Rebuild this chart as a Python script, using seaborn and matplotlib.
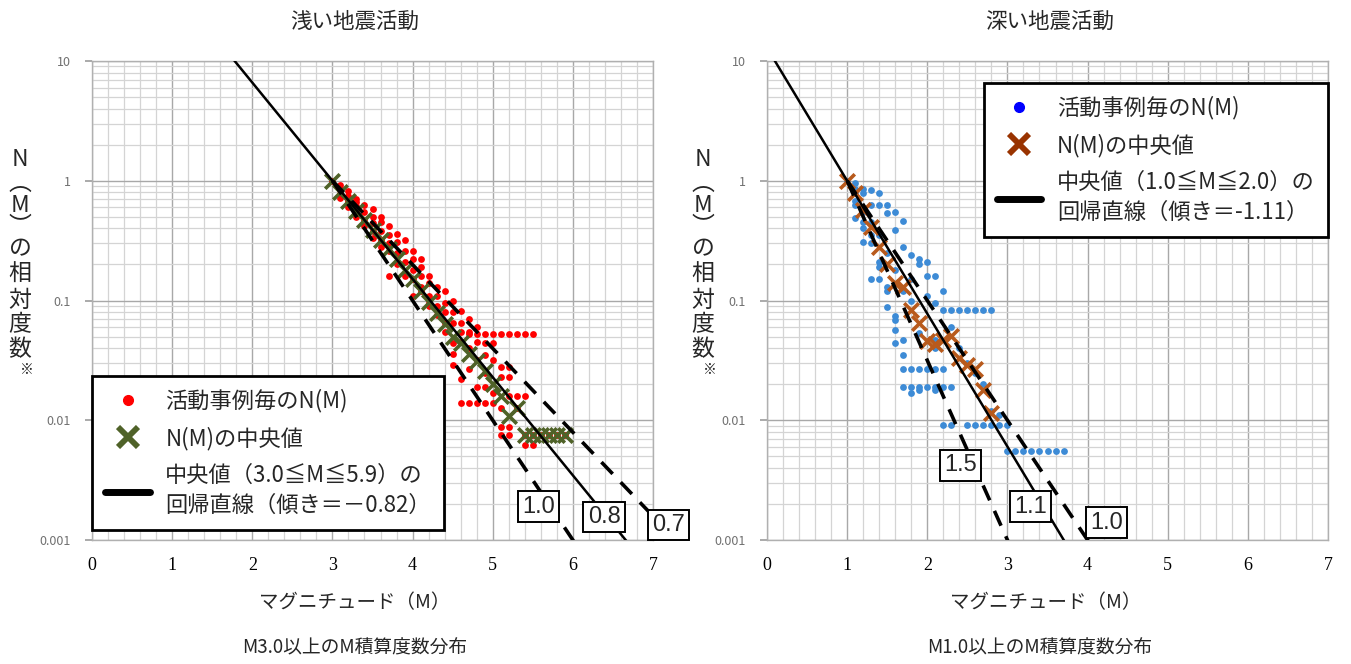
import numpy as np
import pandas as pd
import matplotlib
matplotlib.use("Agg")
import matplotlib.pyplot as plt
from matplotlib.lines import Line2D
from matplotlib.ticker import FixedLocator, FixedFormatter, MultipleLocator, LogLocator, NullFormatter
import seaborn as sns

# ---------------- data ----------------
# left panel (shallow activity): per-case N(M) points
left_M = [3.0,
          3.1, 3.1, 3.1, 3.1,
          3.2, 3.2, 3.2, 3.2,
          3.3, 3.3, 3.3, 3.3, 3.3,
          3.4, 3.4, 3.4, 3.4,
          3.5, 3.5, 3.5, 3.5, 3.5,
          3.6, 3.6, 3.6, 3.6, 3.6,
          3.7, 3.7, 3.7, 3.7, 3.7,
          3.8, 3.8, 3.8, 3.8, 3.8,
          3.9, 3.9, 3.9, 3.9, 3.9,
          4.0, 4.0, 4.0, 4.0, 4.0,
          4.1, 4.1, 4.1, 4.1, 4.1,
          4.2, 4.2, 4.2, 4.2, 4.2,
          4.3, 4.3, 4.3, 4.3,
          4.4, 4.4, 4.4, 4.4, 4.4,
          4.5, 4.5, 4.5, 4.5, 4.5, 4.5,
          4.6, 4.6, 4.6, 4.6, 4.6, 4.6,
          4.7, 4.7, 4.7, 4.7, 4.7, 4.7,
          4.8, 4.8, 4.8, 4.8, 4.8, 4.8,
          4.9, 4.9, 4.9, 4.9, 4.9, 4.9,
          5.0, 5.0, 5.0, 5.0, 5.0,
          5.1, 5.1, 5.1, 5.1, 5.1, 5.1,
          5.2, 5.2, 5.2, 5.2, 5.2, 5.2,
          5.3, 5.3, 5.3,
          5.4, 5.4, 5.4, 5.4,
          5.5, 5.5, 5.5,
          5.6, 5.7, 5.8, 5.9]
left_N = [1.0,
          0.93, 0.85, 0.78, 0.72,
          0.82, 0.75, 0.68, 0.60,
          0.70, 0.66, 0.62, 0.55, 0.50,
          0.63, 0.55, 0.47, 0.42,
          0.58, 0.50, 0.44, 0.38, 0.33,
          0.50, 0.45, 0.38, 0.32, 0.28,
          0.42, 0.35, 0.30, 0.26, 0.16,
          0.36, 0.31, 0.25, 0.21, 0.20,
          0.32, 0.26, 0.21, 0.17, 0.16,
          0.26, 0.22, 0.18, 0.15, 0.11,
          0.22, 0.19, 0.16, 0.13, 0.12,
          0.16, 0.14, 0.11, 0.095, 0.09,
          0.13, 0.11, 0.09, 0.075,
          0.12, 0.095, 0.08, 0.065, 0.055,
          0.10, 0.08, 0.065, 0.044, 0.036, 0.029,
          0.082, 0.065, 0.055, 0.045, 0.022, 0.014,
          0.07, 0.055, 0.053, 0.04, 0.027, 0.014,
          0.06, 0.053, 0.045, 0.032, 0.019, 0.014,
          0.053, 0.044, 0.035, 0.025, 0.019, 0.014,
          0.053, 0.044, 0.032, 0.017, 0.014,
          0.053, 0.028, 0.023, 0.0126, 0.0088, 0.0075,
          0.053, 0.028, 0.023, 0.016, 0.0088, 0.0075,
          0.053, 0.016, 0.0126,
          0.053, 0.016, 0.0076, 0.0062,
          0.053, 0.0076, 0.0062,
          0.0076, 0.0076, 0.0076, 0.0076]

# left panel medians
left_med_M = [3.0, 3.1, 3.2, 3.3, 3.4, 3.5, 3.6, 3.7, 3.8, 3.9,
              4.0, 4.1, 4.2, 4.3, 4.4, 4.5, 4.6, 4.7, 4.8, 4.9,
              5.0, 5.1, 5.2, 5.3, 5.4, 5.5, 5.6, 5.7, 5.8, 5.9]
left_med_N = [1.0, 0.80, 0.68, 0.56, 0.47, 0.39, 0.32, 0.27, 0.22, 0.18,
              0.15, 0.12, 0.098, 0.078, 0.064, 0.050, 0.044, 0.036, 0.031, 0.026,
              0.020, 0.016, 0.0108, 0.0126, 0.0076, 0.0076, 0.0076, 0.0076, 0.0076, 0.0076]

# right panel (deep activity): per-case N(M) points
right_M = [1.0,
           1.1, 1.1, 1.1, 1.1, 1.1, 1.1,
           1.2, 1.2, 1.2, 1.2, 1.2, 1.2,
           1.3, 1.3, 1.3, 1.3, 1.3, 1.3,
           1.4, 1.4, 1.4, 1.4, 1.4, 1.4,
           1.5, 1.5, 1.5, 1.5, 1.5, 1.5,
           1.6, 1.6, 1.6, 1.6, 1.6, 1.6, 1.6,
           1.7, 1.7, 1.7, 1.7, 1.7, 1.7, 1.7,
           1.8, 1.8, 1.8, 1.8, 1.8, 1.8,
           1.9, 1.9, 1.9, 1.9, 1.9, 1.9,
           2.0, 2.0, 2.0, 2.0, 2.0,
           2.1, 2.1, 2.1, 2.1, 2.1, 2.1, 2.1,
           2.2, 2.2, 2.2, 2.2, 2.2,
           2.3, 2.3, 2.3, 2.3,
           2.4, 2.4,
           2.5, 2.5, 2.5,
           2.6, 2.6, 2.6,
           2.7, 2.7, 2.7,
           2.8, 2.8, 2.8,
           2.9, 2.9,
           3.0, 3.0,
           3.1, 3.2, 3.3, 3.4, 3.5, 3.6, 3.7]
right_N = [1.0,
           0.95, 0.85, 0.79, 0.68, 0.63, 0.49,
           0.85, 0.79, 0.55, 0.45, 0.40, 0.31,
           0.84, 0.63, 0.45, 0.35, 0.30, 0.15,
           0.79, 0.63, 0.35, 0.21, 0.19, 0.15,
           0.63, 0.54, 0.25, 0.13, 0.12, 0.089,
           0.55, 0.39, 0.18, 0.074, 0.069, 0.057, 0.044,
           0.46, 0.28, 0.12, 0.047, 0.035, 0.027, 0.019,
           0.24, 0.15, 0.10, 0.027, 0.019, 0.017,
           0.22, 0.20, 0.054, 0.027, 0.019, 0.018,
           0.21, 0.16, 0.11, 0.027, 0.019,
           0.16, 0.096, 0.047, 0.040, 0.027, 0.019, 0.018,
           0.12, 0.083, 0.027, 0.019, 0.0091,
           0.083, 0.060, 0.019, 0.0091,
           0.083, 0.040,
           0.083, 0.030, 0.0091,
           0.083, 0.025, 0.0091,
           0.083, 0.020, 0.0091,
           0.083, 0.012, 0.0091,
           0.011, 0.0091,
           0.0091, 0.0055,
           0.0055, 0.0055, 0.0055, 0.0055, 0.0055, 0.0055, 0.0055]

right_med_M = [1.0, 1.1, 1.2, 1.3, 1.4, 1.5, 1.6, 1.7, 1.8, 1.9,
               2.0, 2.1, 2.2, 2.3, 2.4, 2.5, 2.6, 2.7, 2.8]
right_med_N = [1.0, 0.79, 0.57, 0.41, 0.28, 0.20, 0.14, 0.13, 0.083, 0.065,
               0.046, 0.043, 0.047, 0.051, 0.033, 0.029, 0.027, 0.018, 0.0115]

# regression / reference slopes (b-values), anchored at N=1
left_anchor = 3.0
left_fit_slope = 0.82
left_ref_slopes = [1.0, 0.7]
left_labels = ["1.0", "0.8", "0.7"]
left_label_M = [5.575, 6.39, 7.19]
left_label_N = [0.0019, 0.00155, 0.00134]

right_anchor = 1.0
right_fit_slope = 1.11
right_ref_slopes = [1.5, 1.0]
right_labels = ["1.5", "1.1", "1.0"]
right_label_M = [2.41, 3.29, 4.24]
right_label_N = [0.0042, 0.0019, 0.0014]

yticks = [0.001, 0.01, 0.1, 1, 10]
ytick_labels = ["0.001", "0.01", "0.1", "1", "10"]
xticks = [0, 1, 2, 3, 4, 5, 6, 7]

titles = ["浅い地震活動", "深い地震活動"]
captions = ["M3.0以上のM積算度数分布", "M1.0以上のM積算度数分布"]
xlabel = "マグニチュード（M）"
ylabel_chars = ["N", "︵", "M", "︶", "の", "相", "対", "度", "数"]
ylabel_note = "※"

left_leg = ["活動事例毎のN(M)", "N(M)の中央値",
            "中央値（3.0≦M≦5.9）の\n回帰直線（傾き＝－0.82）"]
right_leg = ["活動事例毎のN(M)", "N(M)の中央値",
             "中央値（1.0≦M≦2.0）の\n回帰直線（傾き＝-1.11）"]

# ---------------- style ----------------
sns.set_theme(style="white")
plt.rcParams['font.family'] = ['Noto Sans CJK JP', 'DejaVu Sans']

W, H = 1351, 664
fig = plt.figure(figsize=(W / 100, H / 100), dpi=100)

def px_axes(x0, x1, y0, y1):
    return fig.add_axes([x0 / W, 1 - y1 / H, (x1 - x0) / W, (y1 - y0) / H])

axL = px_axes(92, 653, 61, 540)
axR = px_axes(767, 1328, 61, 540)


def line_df(anchor, slope, m0, m1):
    m = np.linspace(m0, m1, 200)
    return pd.DataFrame({"M": m, "N": 10 ** (-slope * (m - anchor))})


def setup(ax):
    ax.set_yscale("log")
    ax.set_xlim(0, 7)
    ax.set_ylim(0.001, 10)
    ax.xaxis.set_major_locator(FixedLocator(xticks))
    ax.xaxis.set_minor_locator(MultipleLocator(0.2))
    ax.yaxis.set_major_locator(FixedLocator(yticks))
    ax.yaxis.set_major_formatter(FixedFormatter(ytick_labels))
    ax.yaxis.set_minor_locator(LogLocator(base=10, subs=np.arange(2, 10)))
    ax.yaxis.set_minor_formatter(NullFormatter())
    ax.grid(which="major", color="#a8a8a8", lw=1.0)
    ax.grid(which="minor", color="#d4d4d4", lw=0.9)
    ax.set_axisbelow(True)
    for s in ax.spines.values():
        s.set_color("#b0b0b0")
        s.set_linewidth(1.0)
    ax.tick_params(axis="x", which="major", length=0, pad=12, labelsize=13,
                   labelcolor="black")
    for lab in ax.get_xticklabels():
        lab.set_family(["Liberation Serif", "DejaVu Serif"])
    ax.tick_params(axis="y", which="major", length=5, color="#a0a0a0",
                   labelsize=9, labelcolor="#707070", pad=10, left=True)
    ax.tick_params(axis="y", which="minor", length=0)
    ax.tick_params(axis="x", which="minor", length=0)
    ax.set_xlabel("")
    ax.set_ylabel("")


def draw_panel(ax, M, N, mM, mN, dot_color, x_color, anchor, fit_slope,
               ref_slopes, fit_start, labels, lab_M, lab_N):
    setup(ax)
    sns.scatterplot(x=M, y=N, ax=ax, color=dot_color, s=24, linewidth=0,
                    legend=False, zorder=3)
    sns.scatterplot(x=mM, y=mN, ax=ax, color=x_color, marker="x", s=110,
                    linewidth=2.6, legend=False, zorder=4)
    for sl in ref_slopes:
        d = line_df(anchor, sl, anchor, 7.5)
        sns.lineplot(data=d, x="M", y="N", ax=ax, color="black", lw=2.6,
                     linestyle=(0, (4.5, 3.2)), zorder=5, sort=False)
    d = line_df(anchor, fit_slope, fit_start, 7.5)
    sns.lineplot(data=d, x="M", y="N", ax=ax, color="black", lw=1.8, zorder=5,
                 sort=False)
    for t, m, n in zip(labels, lab_M, lab_N):
        ax.text(m, n, t, ha="center", va="center", fontsize=17,
                family=["Liberation Sans", "DejaVu Sans"], zorder=7,
                clip_on=False,
                bbox=dict(boxstyle="square,pad=0.18", fc="white", ec="black",
                          lw=1.4))
    ax.set_xlabel("")
    ax.set_ylabel("")


draw_panel(axL, left_M, left_N, left_med_M, left_med_N, "#ff0000", "#4f6228",
           left_anchor, left_fit_slope, left_ref_slopes, 1.5,
           left_labels, left_label_M, left_label_N)
draw_panel(axR, right_M, right_N, right_med_M, right_med_N, "#3d8bd6", "#b85a1c",
           right_anchor, right_fit_slope, right_ref_slopes, 0.0,
           right_labels, right_label_M, right_label_N)


def legend(ax, labels, dot_c, x_c, loc, anchor):
    handles = [
        Line2D([], [], ls="none", marker="o", ms=7, color=dot_c),
        Line2D([], [], ls="none", marker="x", ms=15, mew=4.2, color=x_c),
        Line2D([], [], color="black", lw=5),
    ]
    lg = ax.legend(handles, labels, loc=loc, bbox_to_anchor=anchor,
                   fontsize=16, frameon=True, fancybox=False,
                   borderpad=0.6, handlelength=2.0, labelspacing=0.62,
                   handletextpad=0.7, borderaxespad=0)
    lg.get_texts()[2].set_linespacing(1.4)
    fr = lg.get_frame()
    fr.set_edgecolor("black")
    fr.set_linewidth(2.0)
    fr.set_alpha(1)
    lg.set_zorder(10)


legend(axL, left_leg, "#ff0000", "#4f6228", "lower left", (0.0, 0.02))
legend(axR, right_leg, "#0000ff", "#993300", "upper right", (1.0, 0.955))

# titles
fig.text(355 / W, 1 - 22 / H, titles[0], ha="center", va="center", fontsize=15.5)
fig.text(1050 / W, 1 - 22 / H, titles[1], ha="center", va="center", fontsize=15.5)
# x labels
fig.text(355 / W, 1 - 603 / H, xlabel, ha="center", va="center", fontsize=14)
fig.text(1046 / W, 1 - 603 / H, xlabel, ha="center", va="center", fontsize=14)
# captions
fig.text(355 / W, 1 - 648 / H, captions[0], ha="center", va="center", fontsize=13.5)
fig.text(1040 / W, 1 - 648 / H, captions[1], ha="center", va="center", fontsize=13.5)

# vertical y labels, one glyph per row
char_y = [160, 183, 205, 227, 249, 274, 300, 325, 350]
for cx in (20, 703):
    for ch, yy in zip(ylabel_chars, char_y):
        fig.text(cx / W, 1 - yy / H, ch, ha="center", va="center",
                 fontsize=16.5)
    fig.text((cx + 7) / W, 1 - 370 / H, ylabel_note, ha="center",
             va="center", fontsize=10)

fig.savefig("out.png", dpi=100)
